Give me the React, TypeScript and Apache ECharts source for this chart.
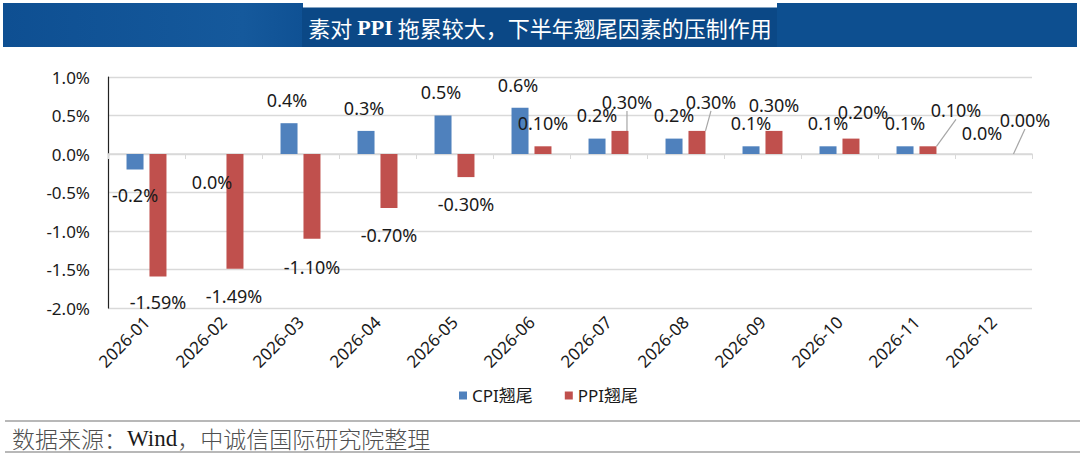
import React, { useEffect, useRef } from "react";
import * as echarts from "echarts";

const months = ["2026-01", "2026-02", "2026-03", "2026-04", "2026-05", "2026-06", "2026-07", "2026-08", "2026-09", "2026-10", "2026-11", "2026-12"];
const cpiCarry = [-0.2, 0.0, 0.4, 0.3, 0.5, 0.6, 0.2, 0.2, 0.1, 0.1, 0.1, 0.0];
const ppiCarry = [-1.59, -1.49, -1.1, -0.7, -0.3, 0.1, 0.3, 0.3, 0.3, 0.2, 0.1, 0.0];
const seriesNames = ["CPI翘尾", "PPI翘尾"];
const yTicks = { min: -2, max: 1, step: 0.5 };

// label offsets (styling): [dx, dy] from bar centre / bar end
const cpiLabelOffset = [[0, 26], [0, 28], [-2, -23], [-2, -23], [-2, -24], [-2, -23], [0, -24], [0, -24], [0, -23], [0, -23], [0, -23], [0, -21]];
const ppiLabelOffset = [[0, 26], [-1, 27], [0, 28], [0, 27], [0, 27], [0, -23], [7, -29], [14, -29], [0, -26], [12, -27], [28, -36], [20, -34]];
const ppiLeader = [false, false, false, false, false, false, true, true, false, false, true, true];

export default function App() {
  const ref = useRef<HTMLDivElement>(null);
  useEffect(() => {
    document.body.style.margin = "0";
    const chart = echarts.init(ref.current!, undefined, { renderer: "svg" });
    const labelFont = { fontSize: 18, color: "#1a1a1a", fontFamily: "Noto Sans" };
    const mkLayout = (offsets: number[][], values: number[], zeroDown: boolean[]) => (p: any) => {
      const i = p.dataIndex;
      const r = p.rect;
      const v = values[i];
      const down = v < 0 || (v === 0 && zeroDown[i]);
      const endY = down ? r.y + r.height : r.y;
      return {
        x: r.x + r.width / 2 + offsets[i][0],
        y: endY + offsets[i][1],
        align: "center",
        verticalAlign: "middle",
      };
    };
    const cpiZeroDown = cpiCarry.map((_, i) => i === 1);
    const ppiZeroDown = ppiCarry.map(() => false);
    chart.setOption({
      animation: false,
      backgroundColor: "#ffffff",
      textStyle: { fontFamily: "Noto Sans" },
      grid: { left: 108, right: 48, top: 77, bottom: 151 },
      legend: {
        data: seriesNames,
        left: 454,
        top: 382,
        icon: "rect",
        itemWidth: 8,
        itemHeight: 8,
        itemGap: 32,
        textStyle: { fontSize: 17, color: "#1a1a1a", fontFamily: "Noto Sans, Noto Sans CJK SC" },
      },
      xAxis: [
        {
          type: "category",
          data: months,
          position: "bottom",
          axisLine: { show: false, onZero: false },
          axisTick: { show: false },
          axisLabel: { rotate: 45, fontSize: 17, color: "#1a1a1a", margin: 11, interval: 0 },
        },
        {
          type: "category",
          data: months,
          position: "bottom",
          axisLine: { show: true, onZero: true, lineStyle: { color: "#d9d9d9", width: 1.5 } },
          axisTick: { show: true, length: 5, lineStyle: { color: "#d9d9d9" } },
          axisLabel: { show: false },
          splitLine: { show: false },
        },
      ],
      yAxis: {
        type: "value",
        min: yTicks.min,
        max: yTicks.max,
        interval: yTicks.step,
        axisLine: { show: true, lineStyle: { color: "#222", width: 1.2 } },
        axisTick: { show: false },
        axisLabel: { formatter: (v: number) => v.toFixed(1) + "%", fontSize: 17, color: "#1a1a1a", margin: 18 },
        splitLine: { lineStyle: { color: "#d9d9d9", width: 1.3 } },
      },
      series: [
        {
          name: seriesNames[0],
          type: "bar",
          xAxisIndex: 0,
          data: cpiCarry,
          barWidth: 17,
          barGap: "35%",
          itemStyle: { color: "#4f81bd" },
          label: { show: true, position: "top", formatter: (p: any) => p.value.toFixed(1) + "%", ...labelFont },
          labelLayout: mkLayout(cpiLabelOffset, cpiCarry, cpiZeroDown),
        },
        {
          name: seriesNames[1],
          type: "bar",
          xAxisIndex: 0,
          data: ppiCarry.map((v, i) => ({
            value: v,
            labelLine: { show: ppiLeader[i], lineStyle: { color: "#a6a6a6", width: 1.2 } },
          })),
          barWidth: 17,
          itemStyle: { color: "#c0504d" },
          label: { show: true, position: "top", formatter: (p: any) => p.value.toFixed(2) + "%", ...labelFont },
          labelLine: { show: false, lineStyle: { color: "#a6a6a6", width: 1.2 } },
          labelLayout: mkLayout(ppiLabelOffset, ppiCarry, ppiZeroDown),
        },
      ],
      graphic: [
        { type: "rect", shape: { x: 3, y: 3, width: 300, height: 44 }, style: { fill: new echarts.graphic.LinearGradient(0, 0, 1, 0, [{ offset: 0, color: "#0e4f92" }, { offset: 0.8, color: "#15599c" }, { offset: 1, color: "#0f5194" }]) } },
        { type: "rect", shape: { x: 302, y: 7.5, width: 476, height: 39.5 }, style: { fill: "#0b4886" } },
        { type: "rect", shape: { x: 777, y: 3, width: 300, height: 44 }, style: { fill: "#0d4f90" } },
        {
          type: "text",
          x: 540,
          y: 27,
          style: {
            text: "{a|素对 }{b|PPI}{a| 拖累较大，下半年翘尾因素的压制作用}",
            align: "center",
            verticalAlign: "middle",
            rich: {
              a: { fontSize: 22, fill: "#ffffff", fontFamily: "Noto Sans CJK SC" },
              b: { fontSize: 22, fill: "#ffffff", fontWeight: "bold", fontFamily: "Liberation Serif" },
            },
          },
        },
        { type: "line", shape: { x1: 5, y1: 421, x2: 1080, y2: 421 }, style: { stroke: "#a0a0a0", lineWidth: 1.5 } },
        { type: "line", shape: { x1: 5, y1: 452, x2: 1080, y2: 452 }, style: { stroke: "#a0a0a0", lineWidth: 1.5 } },
        {
          type: "text",
          x: 12,
          y: 438,
          style: {
            text: "{a|数据来源：}{b|Wind}{a|，中诚信国际研究院整理}",
            align: "left",
            verticalAlign: "middle",
            rich: {
              a: { fontSize: 23, fill: "#505050", fontFamily: "Noto Sans CJK SC", fontWeight: 300 },
              b: { fontSize: 23, fill: "#1a1a1a", fontFamily: "Liberation Serif" },
            },
          },
        },
      ],
    });
    return () => chart.dispose();
  }, []);
  return <div ref={ref} style={{ width: 1080, height: 459 }} />;
}
